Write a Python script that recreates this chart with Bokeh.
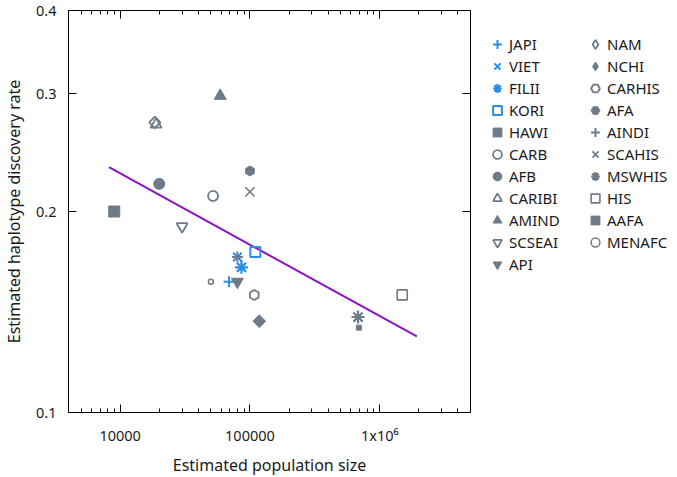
import math
from bokeh.plotting import figure
from bokeh.layouts import row
from bokeh.models import FixedTicker, LogAxis, Legend, LegendItem, PrintfTickFormatter, Range1d
from bokeh.embed import file_html
from bokeh.resources import INLINE

# ---- data ----
groups = ["JAPI", "VIET", "FILII", "KORI", "HAWI", "CARB", "AFB", "CARIBI", "AMIND", "SCSEAI", "API",
          "NAM", "NCHI", "CARHIS", "AFA", "AINDI", "SCAHIS", "MSWHIS", "HIS", "AAFA", "MENAFC"]
pop_size = [69000, 80000, 86000, 110000, 9000, 52000, 20000, 18900, 59000, 30000, 80000,
            18500, 118000, 108000, 100000, 80000, 100000, 680000, 1490000, 690000, 50000]
rate = [0.157, 0.171, 0.165, 0.174, 0.200, 0.211, 0.220, 0.270, 0.298, 0.190, 0.157,
        0.272, 0.137, 0.150, 0.230, 0.171, 0.214, 0.139, 0.150, 0.134, 0.157]

fit_x = [8200, 1930000]
fit_y = [0.233, 0.130]

x_ticks = [10000, 100000, 1000000]
x_tick_labels = ["10000", "100000", "1x10\u2076"]
x_minor_ticks = [5000, 6000, 7000, 8000, 9000,
                 20000, 30000, 40000, 50000, 60000, 70000, 80000, 90000,
                 200000, 300000, 400000, 500000, 600000, 700000, 800000, 900000,
                 2000000, 3000000, 4000000]
y_ticks = [0.1, 0.2, 0.3, 0.4]

# ---- styles ----
BLUE = "#2a8de8"
GRAY = "#6d7a88"
PURPLE = "#8a12c4"
FONT = "Noto Sans"
TXT = "#1a1a1a"
# (marker, colour, filled, size, line_width, angle)
styles = {
    "JAPI": ("cross", BLUE, False, 11, 2, 0),
    "VIET": ("x", BLUE, False, 12, 2, 0),
    "FILII": ("asterisk", BLUE, False, 13, 2.2, 0),
    "KORI": ("square", BLUE, False, 10, 2, 0),
    "HAWI": ("square", GRAY, True, 11, 1, 0),
    "CARB": ("circle", GRAY, False, 10, 1.8, 0),
    "AFB": ("circle", GRAY, True, 11, 1, 0),
    "CARIBI": ("triangle", GRAY, False, 11, 1.8, 0),
    "AMIND": ("triangle", GRAY, True, 12, 1, 0),
    "SCSEAI": ("inverted_triangle", GRAY, False, 11, 1.8, 0),
    "API": ("inverted_triangle", GRAY, True, 12, 1, 0),
    "NAM": ("square", GRAY, False, 8, 1.8, math.pi / 4),
    "NCHI": ("square", GRAY, True, 9, 1, math.pi / 4),
    "CARHIS": ("hex", GRAY, False, 10, 1.8, math.pi / 2),
    "AFA": ("hex", GRAY, True, 10, 1, math.pi / 2),
    "AINDI": ("cross", GRAY, False, 11, 2, 0),
    "SCAHIS": ("x", GRAY, False, 13, 1.6, 0),
    "MSWHIS": ("asterisk", GRAY, False, 13, 2.2, 0),
    "HIS": ("square", GRAY, False, 10, 1.6, 0),
    "AAFA": ("square", GRAY, True, 5, 1, 0),
    "MENAFC": ("circle", GRAY, False, 5, 1.5, 0),
}
# legend swatches cannot be rotated, so the diamonds use Bokeh's diamond marker there
legend_marker = {"NAM": "diamond", "NCHI": "diamond"}

TOP_B, FRAME, BOT_B, LEFT_B, RIGHT_B = 10, 402, 54, 62, 5
TOTAL_H = TOP_B + FRAME + BOT_B

p = figure(x_axis_type="log", y_axis_type="log",
           x_range=Range1d(4000, 5e6), y_range=Range1d(0.1, 0.4),
           frame_width=FRAME, frame_height=FRAME,
           min_border_left=LEFT_B, min_border_top=TOP_B, min_border_right=RIGHT_B,
           min_border_bottom=BOT_B,
           output_backend="svg", toolbar_location=None)
p.background_fill_color = "white"
p.border_fill_color = "white"
p.outline_line_color = "black"
p.outline_line_width = 1
p.grid.visible = False

# fit line
p.line(fit_x, fit_y, line_color=PURPLE, line_width=2)


def glyph_kwargs(g, legend=False):
    mk, col, filled, sz, lw, ang = styles[g]
    if legend:
        mk = legend_marker.get(g, mk)
        ang = 0
    return dict(marker=mk, size=sz, angle=ang, line_color=col, line_width=lw,
                fill_color=col if filled else None)


for g, xv, yv in zip(groups, pop_size, rate):
    p.scatter(x=[xv], y=[yv], **glyph_kwargs(g))

# axes
xt = FixedTicker(ticks=x_ticks, minor_ticks=x_minor_ticks)
yt = FixedTicker(ticks=y_ticks, minor_ticks=[])
x_over = {v: lab for v, lab in zip(x_ticks, x_tick_labels)}

xa = p.xaxis[0]
xa.ticker = xt
xa.major_label_overrides = x_over
xa.axis_label = "Estimated population size"
xa.major_tick_in = 8
xa.major_tick_out = 0
xa.minor_tick_in = 4
xa.minor_tick_out = 0
xa.major_label_standoff = 12
xa.axis_label_standoff = 6

ya = p.yaxis[0]
ya.ticker = yt
ya.formatter = PrintfTickFormatter(format="%.1f")
ya.axis_label = "Estimated haplotype discovery rate"
ya.major_tick_in = 8
ya.major_tick_out = 0
ya.minor_tick_in = 0
ya.minor_tick_out = 0
ya.major_label_standoff = 12
ya.axis_label_standoff = 8

for ax in (xa, ya):
    ax.axis_label_text_font = FONT
    ax.axis_label_text_font_size = "16px"
    ax.axis_label_text_font_style = "normal"
    ax.axis_label_text_color = TXT
    ax.major_label_text_font = FONT
    ax.major_label_text_font_size = "14.5px"
    ax.major_label_text_color = TXT
    ax.axis_line_color = "black"
    ax.major_tick_line_color = "black"
    ax.minor_tick_line_color = "black"

top = LogAxis(ticker=FixedTicker(ticks=x_ticks, minor_ticks=x_minor_ticks),
              major_label_text_font_size="1px", major_label_text_color=None, major_label_standoff=0,
              major_tick_in=8, major_tick_out=0, minor_tick_in=4, minor_tick_out=0,
              axis_line_color="black")
right = LogAxis(ticker=FixedTicker(ticks=y_ticks, minor_ticks=[]),
                major_label_text_font_size="1px", major_label_text_color=None, major_label_standoff=0,
                major_tick_in=8, major_tick_out=0, minor_tick_in=0, minor_tick_out=0,
                axis_line_color="black")
p.add_layout(top, "above")
p.add_layout(right, "right")

# ---- legend panel (separate figure, two columns) ----
# its ranges leave the data points out of view, so only the legend is shown
LEG_W = 192
pl = figure(width=LEG_W, height=TOTAL_H, x_range=Range1d(0, 1), y_range=Range1d(0, 1),
            min_border=0, output_backend="svg", toolbar_location=None)
pl.axis.visible = False
pl.grid.visible = False
pl.outline_line_color = None
pl.background_fill_color = "white"
pl.border_fill_color = "white"

leg_renderers = {g: pl.scatter(x=[xv], y=[yv], **glyph_kwargs(g, legend=True))
                 for g, xv, yv in zip(groups, pop_size, rate)}

col1 = groups[:11]
col2 = groups[11:]
ROW_H = 22


def make_legend(names, x_off, y_off):
    return Legend(items=[LegendItem(label=n, renderers=[leg_renderers[n]]) for n in names],
                  location=(x_off, y_off), orientation="vertical",
                  glyph_width=22, glyph_height=ROW_H, label_height=ROW_H, label_standoff=1,
                  spacing=0, padding=0, margin=0,
                  label_text_font=FONT, label_text_font_size="15px", label_text_color=TXT,
                  border_line_color=None, background_fill_alpha=0)


pl.add_layout(make_legend(col1, 11, 125))
pl.add_layout(make_legend(col2, 109, 147))

layout = row(p, pl, spacing=0)
open("out.html", "w").write(file_html(layout, INLINE))
